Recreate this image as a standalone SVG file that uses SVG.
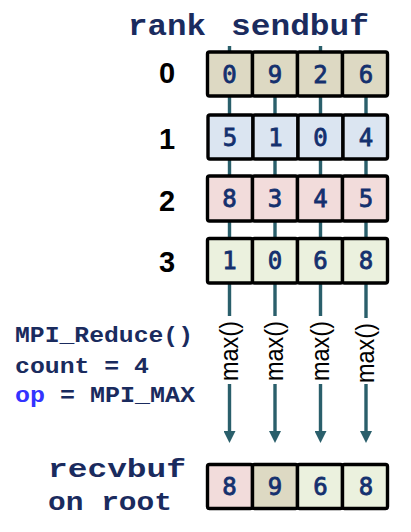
<svg xmlns="http://www.w3.org/2000/svg" width="411" height="532" viewBox="0 0 411 532">
<style>
.cell{stroke:#000;stroke-width:3.4}
.c0{fill:#ddd9c3}.c1{fill:#dbe5f1}.c2{fill:#f2dcdb}.c3{fill:#ebf1de}
.dig{font-family:"DejaVu Sans Mono","Liberation Mono",monospace;font-size:24px;fill:#14306e;stroke:#14306e;stroke-width:0.8;text-anchor:middle}
.rank{font-family:"Liberation Sans",Arial,sans-serif;font-weight:bold;font-size:29px;fill:#000;text-anchor:middle}
.mono{font-family:"Liberation Mono","Courier New",monospace;font-weight:bold;fill:#1a2b5e}
.wire{stroke:#2a5f6b;stroke-width:3.4;fill:none}
.op{font-family:"Liberation Sans",Arial,sans-serif;font-size:26px;fill:#000}
</style>
<defs>
<marker id="ah" markerUnits="userSpaceOnUse" markerWidth="12" markerHeight="12" viewBox="0 0 12 12" refX="1" refY="6" orient="auto">
<path d="M0,0 L12,6 L0,12 z" fill="#2a5f6b"/>
</marker>
</defs>
<rect width="411" height="532" fill="#fff"/>

<g id="connectors">
<line class="wire" x1="229.5" y1="46" x2="229.5" y2="316"/>
<line class="wire" x1="275" y1="52" x2="275" y2="316"/>
<line class="wire" x1="320.5" y1="46" x2="320.5" y2="316"/>
<line class="wire" x1="366" y1="52" x2="366" y2="318"/>
<line class="wire" x1="229.5" y1="384" x2="229.5" y2="432" marker-end="url(#ah)"/>
<line class="wire" x1="275" y1="384" x2="275" y2="432" marker-end="url(#ah)"/>
<line class="wire" x1="320.5" y1="384" x2="320.5" y2="432" marker-end="url(#ah)"/>
<line class="wire" x1="366" y1="384" x2="366" y2="432" marker-end="url(#ah)"/>
<text class="op" transform="translate(237.5,381) rotate(-90)" textLength="60" lengthAdjust="spacingAndGlyphs">max()</text>
<text class="op" transform="translate(283,381) rotate(-90)" textLength="60" lengthAdjust="spacingAndGlyphs">max()</text>
<text class="op" transform="translate(328.5,381) rotate(-90)" textLength="60" lengthAdjust="spacingAndGlyphs">max()</text>
<text class="op" transform="translate(374,383) rotate(-90)" textLength="60" lengthAdjust="spacingAndGlyphs">max()</text>
</g>

<g id="header">
<text class="mono" x="128" y="35" font-size="29" textLength="78" lengthAdjust="spacingAndGlyphs">rank</text>
<text class="mono" x="231" y="35" font-size="29" textLength="138" lengthAdjust="spacingAndGlyphs">sendbuf</text>
</g>

<g id="rank0">
<text class="rank" x="167" y="83">0</text>
<rect class="cell c0" x="207.5" y="52" width="45" height="44" rx="2"/>
<rect class="cell c0" x="252.5" y="52" width="45" height="44" rx="2"/>
<rect class="cell c0" x="297.5" y="52" width="45" height="44" rx="2"/>
<rect class="cell c0" x="342.5" y="52" width="45" height="44" rx="2"/>
<text class="dig" x="229.5" y="82.5">0</text>
<text class="dig" x="275" y="82.5">9</text>
<text class="dig" x="320.5" y="82.5">2</text>
<text class="dig" x="366" y="82.5">6</text>
</g>

<g id="rank1">
<text class="rank" x="167" y="148.5">1</text>
<rect class="cell c1" x="208" y="115" width="45" height="44" rx="2"/>
<rect class="cell c1" x="253" y="115" width="45" height="44" rx="2"/>
<rect class="cell c1" x="298" y="115" width="45" height="44" rx="2"/>
<rect class="cell c1" x="343" y="115" width="44.5" height="44" rx="2"/>
<text class="dig" x="230" y="145.5">5</text>
<text class="dig" x="275.5" y="145.5">1</text>
<text class="dig" x="320.5" y="145.5">0</text>
<text class="dig" x="366" y="145.5">4</text>
</g>

<g id="rank2">
<text class="rank" x="167" y="210.5">2</text>
<rect class="cell c2" x="207.5" y="176" width="45" height="45" rx="2"/>
<rect class="cell c2" x="252.5" y="176" width="45" height="45" rx="2"/>
<rect class="cell c2" x="297.5" y="176" width="45" height="45" rx="2"/>
<rect class="cell c2" x="342.5" y="176" width="45" height="45" rx="2"/>
<text class="dig" x="229.5" y="207">8</text>
<text class="dig" x="275" y="207">3</text>
<text class="dig" x="320.5" y="207">4</text>
<text class="dig" x="366" y="207">5</text>
</g>

<g id="rank3">
<text class="rank" x="167" y="272">3</text>
<rect class="cell c3" x="207.5" y="238.5" width="45" height="44.5" rx="2"/>
<rect class="cell c3" x="252.5" y="238.5" width="45" height="44.5" rx="2"/>
<rect class="cell c3" x="297.5" y="238.5" width="45" height="44.5" rx="2"/>
<rect class="cell c3" x="342.5" y="238.5" width="45" height="44.5" rx="2"/>
<text class="dig" x="229.5" y="269">1</text>
<text class="dig" x="275" y="269">0</text>
<text class="dig" x="320.5" y="269">6</text>
<text class="dig" x="366" y="269">8</text>
</g>

<g id="call-info">
<text class="mono" x="15" y="342" font-size="22" textLength="178" lengthAdjust="spacingAndGlyphs">MPI_Reduce()</text>
<text class="mono" x="15" y="373" font-size="22" textLength="134" lengthAdjust="spacingAndGlyphs">count = 4</text>
<text class="mono" x="15" y="402" font-size="22" textLength="180" lengthAdjust="spacingAndGlyphs"><tspan fill="#3333ff">op</tspan> = MPI_MAX</text>
</g>

<g id="recvbuf">
<text class="mono" x="48" y="477" font-size="26" textLength="138" lengthAdjust="spacingAndGlyphs">recvbuf</text>
<text class="mono" x="48" y="510" font-size="26" textLength="124" lengthAdjust="spacingAndGlyphs">on root</text>
<rect class="cell c2" x="207.5" y="464.5" width="45" height="44" rx="2"/>
<rect class="cell c0" x="252.5" y="464.5" width="45" height="44" rx="2"/>
<rect class="cell c3" x="297.5" y="464.5" width="45" height="44" rx="2"/>
<rect class="cell c3" x="342.5" y="464.5" width="45" height="44" rx="2"/>
<text class="dig" x="229.5" y="495">8</text>
<text class="dig" x="275" y="495">9</text>
<text class="dig" x="320.5" y="495">6</text>
<text class="dig" x="366" y="495">8</text>
</g>
</svg>
